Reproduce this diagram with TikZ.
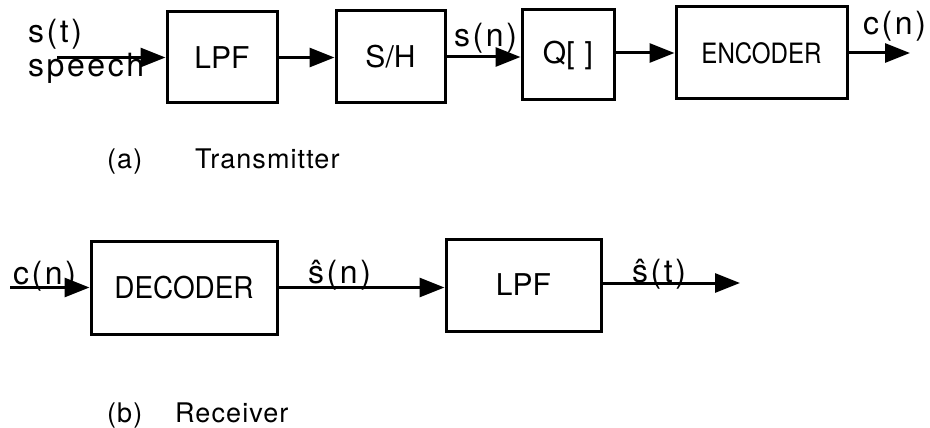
\documentclass[tikz,border=0pt]{standalone}
\usepackage{fontspec}
\usepackage{graphicx}
\setmainfont{TeX Gyre Heros}
\newfontfamily\spaced[LetterSpace=8]{TeX Gyre Heros}
\newfontfamily\capfont[LetterSpace=4]{TeX Gyre Heros}
\usetikzlibrary{arrows.meta}
\begin{document}
\begin{tikzpicture}[x=1pt,y=-1pt,
  box/.style={draw, line width=3pt, inner sep=0pt, font=\fontsize{30}{30}\selectfont},
  sig/.style={line width=3pt, -{Triangle[length=25pt,width=19pt]}},
  lab/.style={inner sep=0pt, anchor=base west, font=\fontsize{32}{32}\spaced},
  captxt/.style={inner sep=0pt, anchor=base west, font=\fontsize{27}{27}\capfont}]
\useasboundingbox (0,0) rectangle (930,428);
% transmitter
\node[box, minimum width=110pt, minimum height=91pt] (lpf1) at (222,57.5) {LPF};
\node[box, minimum width=109pt, minimum height=92pt] (sh) at (390.5,57) {S/H};
\node[box, minimum width=92pt, minimum height=90pt] (q) at (568,55) {Q[\,\,]};
\node[box, minimum width=171pt, minimum height=92pt] (enc) at (761.5,53) {\fontsize{28}{28}\selectfont\scalebox{0.86}[1]{ENCODER}};
\coordinate (in1) at (57,57.5);
\coordinate (out1) at (910,53);
\draw[sig] (in1) -- (lpf1.west);
\draw[sig] (lpf1.east) -- (lpf1.east -| sh.west);
\draw[sig] (sh.east) -- (sh.east -| q.west);
\draw[sig] (enc.west -| q.east) -- (enc.west);
\draw[sig] (enc.east) -- (out1);
\node[lab] (st) at (28,43) {s(t)};
\node[lab] (speech) at (28,77) {speech};
\node[lab] (sn) at (454,47) {s(n)};
\node[lab] (cn1) at (863,35) {c(n)};
\node[captxt] (a) at (107,168) {(a)};
\node[captxt] (tx) at (195,168) {Transmitter};
% receiver
\node[box, minimum width=186pt, minimum height=93pt] (dec) at (184,287.5) {\scalebox{0.93}[1]{DECODER}};
\node[box, minimum width=155pt, minimum height=92pt] (lpf2) at (523.5,285) {LPF};
\coordinate (in2) at (10,287.5);
\coordinate (out2) at (740,283);
\draw[sig] (in2) -- (dec.west);
\draw[sig] (dec.east) -- (dec.east -| lpf2.west);
\draw[sig] (lpf2.east |- out2) -- (out2);
\node[lab] (cn2) at (13,284) {c(n)};
\node[lab] (shn) at (308,283) {\^{s}(n)};
\node[lab] (sht) at (632,282) {\^{s}(t)};
\node[captxt] (b) at (107,422) {(b)};
\node[captxt] (rx) at (175,422) {Receiver};
\end{tikzpicture}
\end{document}
